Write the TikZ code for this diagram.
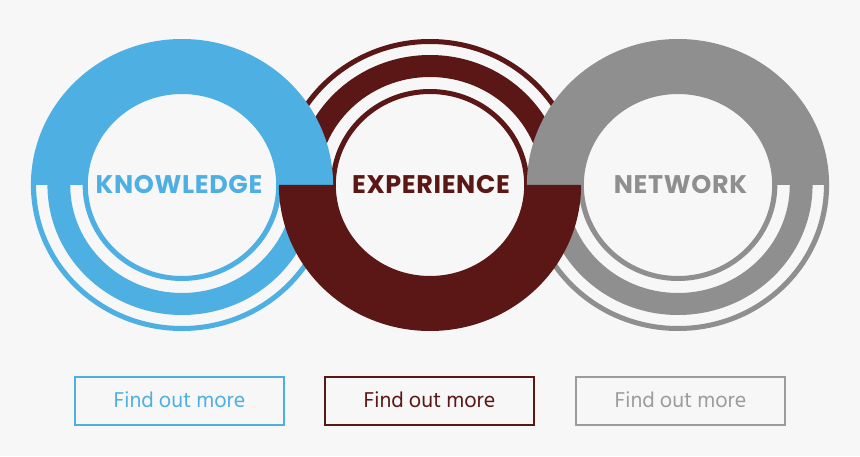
\documentclass[tikz,border=0pt]{standalone}
\usepackage{fontspec}
\usetikzlibrary{calc}
\newfontfamily\ringfont{Poppins}[LetterSpace=2.5]
\newfontfamily\btnfont{Hind Siliguri}
\definecolor{knowBlue}{HTML}{4EAFE2}
\definecolor{expMaroon}{HTML}{5A1715}
\definecolor{netGray}{HTML}{8F8F8F}
\definecolor{btnGray}{HTML}{9C9C9C}
\definecolor{pageBg}{HTML}{F7F7F7}

\begin{document}
\begin{tikzpicture}[
  x=1pt, y=1pt,
  ringlabel/.style={font=\ringfont\bfseries\fontsize{25.5}{26}\selectfont, anchor=base, inner sep=0pt},
  button/.style={draw, line width=2pt, minimum width=209pt, minimum height=48pt, text height=16pt, text depth=3pt, inner sep=0pt, font=\btnfont\fontsize{22}{24}\selectfont}
]
\fill[pageBg] (0,0) rectangle (860,456);
\useasboundingbox (0,0) rectangle (860,456);

\coordinate (kc) at (182,271);
\coordinate (ec) at (430,271);
\coordinate (nc) at (678,271);

% split rings first: maroon on top, blue and gray below
\begin{scope}[shift={(ec)}, xscale=1.035]
  \foreach \ri/\ro in {91/96,108/130,141/146}
    \fill[expMaroon] (0:\ro) arc[start angle=0, end angle=180, radius=\ro] -- (180:\ri) arc[start angle=180, end angle=0, radius=\ri] -- cycle;
\end{scope}
\foreach \c/\col in {kc/knowBlue, nc/netGray} {
  \begin{scope}[shift={(\c)}, xscale=1.035]
    \foreach \ri/\ro in {91/96,108/130,141/146}
      \fill[\col] (180:\ro) arc[start angle=180, end angle=360, radius=\ro] -- (0:\ri) arc[start angle=0, end angle=-180, radius=\ri] -- cycle;
  \end{scope}
}

% solid halves over them
\foreach \c/\col in {kc/knowBlue, nc/netGray}
  \fill[\col, shift={(\c)}, xscale=1.035] (0:146) arc[start angle=0, end angle=180, radius=146] -- (180:91) arc[start angle=180, end angle=0, radius=91] -- cycle;
\fill[expMaroon, shift={(ec)}, xscale=1.035] (180:146) arc[start angle=180, end angle=360, radius=146] -- (0:91) arc[start angle=0, end angle=-180, radius=91] -- cycle;

\node[ringlabel, text=knowBlue] (know) at (179,262) {KNOWLEDGE};
\node[ringlabel, text=expMaroon] (exp) at (431,262) {EXPERIENCE};
\node[ringlabel, text=netGray] (net) at (680.5,262) {NETWORK};

\node[button, draw=knowBlue, text=knowBlue] (knowbtn) at (179.5,55) {Find out more};
\node[button, draw=expMaroon, text=expMaroon] (expbtn) at (429.5,55) {Find out more};
\node[button, draw=btnGray, text=btnGray] (netbtn) at (680.5,55) {Find out more};
\end{tikzpicture}
\end{document}
